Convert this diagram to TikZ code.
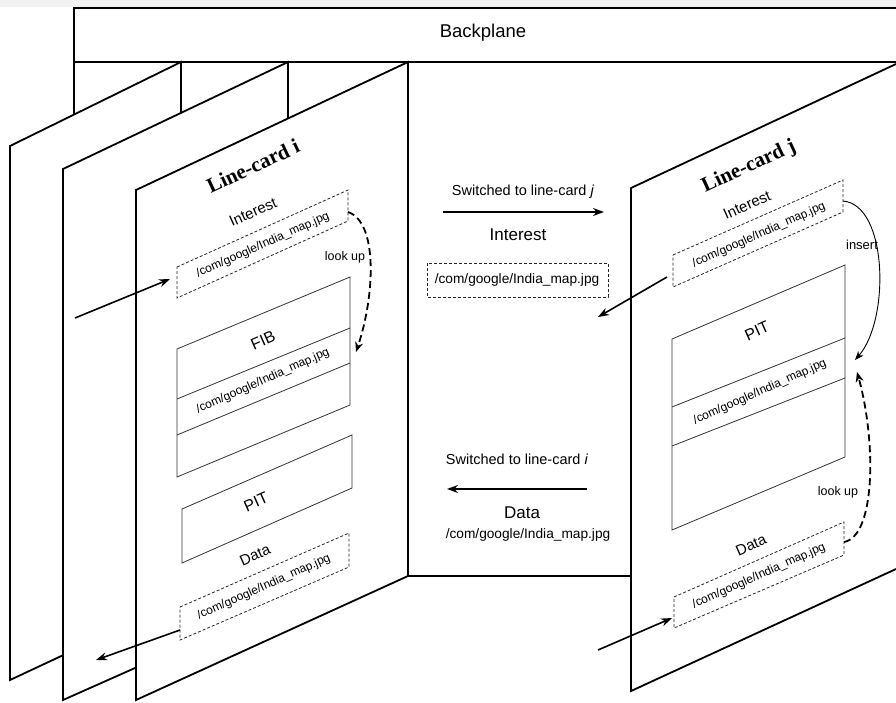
\documentclass[tikz,border=0pt]{standalone}
\usepackage{fontspec}
\setmainfont{Liberation Sans}
\newfontfamily\lcfont{Liberation Serif}
\usetikzlibrary{arrows.meta}
\begin{document}
\begin{tikzpicture}[x=1pt,y=-1pt,
  panel/.style={draw=black,line width=1.8pt,fill=white,line join=miter},
  tbl/.style={draw=black!80,line width=0.8pt},
  dbox/.style={draw=black!85,line width=0.8pt,dash pattern=on 3pt off 2pt},
  arr/.style={line width=1.6pt,-{Stealth[length=11pt,width=8pt]}},
  look/.style={line width=1.8pt,dash pattern=on 7pt off 4pt,-{Stealth[length=10pt,width=8pt]}},
  thinarr/.style={line width=0.9pt,-{Stealth[length=9pt,width=7pt]}},
  rt/.style={rotate=24,inner sep=0pt},
  ft/.style={inner sep=0pt,font=\fontsize{#1}{#1}\selectfont},
  lc/.style={rotate=25,inner sep=0pt,font=\lcfont\bfseries\fontsize{21}{21}\selectfont}
]
\useasboundingbox (0,0) rectangle (896,702);
\fill[gray!10] (0,0) rectangle (896,7);

% backplane
\draw[line width=1.8pt] (896,8) -- (74,8) -- (74,62) -- (896,62);
\node[ft=18.5] (bp) at (483,33) {Backplane};
\draw[line width=1.8pt] (74,62) -- (74,116);

% stacked line cards
\draw[panel] (10,146) -- (181,62) -- (181,600) -- (10,680) -- cycle;
\draw[panel] (63,169) -- (288,62) -- (288,600) -- (63,700) -- cycle;
\draw[panel] (136,190) -- (408,62) -- (408,576) -- (136,700) -- cycle;
\draw[line width=1.8pt] (408,576) -- (631,576);
\draw[panel] (896,64) -- (631,188) -- (631,691) -- (896,569);

% line-card i
\node[lc] (lci) at (253,166) {Line-card i};
\node[rt,ft=15] (inti) at (253,212) {Interest};
\draw[dbox] (177,267) -- (348,190) -- (348,221) -- (177,298) -- cycle;
\node[rt,ft=12] (ipi) at (263,245) {/com/google/India\_map.jpg};
\draw[tbl] (177,349) -- (350,277) -- (350,405) -- (177,477) -- cycle;
\draw[tbl] (177,399) -- (350,328);
\draw[tbl] (177,435) -- (350,363);
\node[rt,ft=16] (fib) at (263,340) {FIB};
\node[rt,ft=12] (fibp) at (263,381) {/com/google/India\_map.jpg};
\draw[tbl] (182,509) -- (352,435) -- (352,488) -- (182,563) -- cycle;
\node[rt,ft=16] (piti) at (256,502) {PIT};
\node[rt,ft=15] (datai) at (255,555) {Data};
\draw[dbox] (180,607) -- (349,533) -- (349,567) -- (180,640) -- cycle;
\node[rt,ft=12] (dpi) at (264,587) {/com/google/India\_map.jpg};
\node[ft=12.5] (lui) at (345,257) {look up};

\coordinate (ini0) at (75,318);
\coordinate (ini1) at (170,279);
\coordinate (outi0) at (180,630);
\coordinate (outi1) at (96,660);
\draw[arr] (ini0) -- (ini1);
\draw[arr] (outi0) -- (outi1);
\coordinate (lki0) at (348,212);
\coordinate (lki1) at (356,352);
\draw[look] (lki0) .. controls (378,222) and (375,295) .. (lki1);

% middle
\node[ft=14.5] (swj) at (523,192) {Switched to line-card \textit{j}};
\coordinate (mj0) at (443,212);
\coordinate (mj1) at (604,212);
\draw[arr] (mj0) -- (mj1);
\node[ft=17] (mint) at (518,235) {Interest};
\draw[dbox] (427,263) rectangle (608,297);
\node[ft=13.7] (mip) at (517,280) {/com/google/India\_map.jpg};
\node[ft=14.5] (swi) at (517,459) {Switched to line-card \textit{i}};
\coordinate (mi0) at (587,489);
\coordinate (mi1) at (447,489);
\draw[arr] (mi0) -- (mi1);
\node[ft=17] (mdat) at (522,513) {Data};
\node[ft=13.7] (mdp) at (528,535) {/com/google/India\_map.jpg};

% line-card j
\node[lc] (lcj) at (749,167) {Line-card j};
\node[rt,ft=15] (intj) at (747,205) {Interest};
\draw[dbox] (673,255) -- (843,180) -- (843,212) -- (673,287) -- cycle;
\node[rt,ft=12] (ipj) at (759,235) {/com/google/India\_map.jpg};
\draw[tbl] (672,339) -- (845,265) -- (845,457) -- (672,530) -- cycle;
\draw[tbl] (672,407) -- (845,338);
\draw[tbl] (672,446) -- (845,378);
\node[rt,ft=16] (pitj) at (757,331) {PIT};
\node[rt,ft=12] (pjp) at (760,392) {/com/google/India\_map.jpg};
\node[rt,ft=15] (dataj) at (751,545) {Data};
\draw[dbox] (674,597) -- (844,522) -- (844,555) -- (674,628) -- cycle;
\node[rt,ft=12] (dpj) at (759,576) {/com/google/India\_map.jpg};
\node[ft=13] (ins) at (862,245) {insert};
\node[ft=12.5] (luj) at (838,492) {look up};

\coordinate (outj0) at (667,277);
\coordinate (outj1) at (598,317);
\draw[arr] (outj0) -- (outj1);
\coordinate (inj0) at (598,650);
\coordinate (inj1) at (672,618);
\draw[arr] (inj0) -- (inj1);
\coordinate (insj0) at (843,201);
\coordinate (insj1) at (855,360);
\draw[thinarr] (insj0) .. controls (888,205) and (890,320) .. (insj1);
\coordinate (lkj0) at (844,542);
\coordinate (lkj1) at (857,372);
\draw[look] (lkj0) .. controls (876,536) and (876,440) .. (lkj1);
\end{tikzpicture}
\end{document}
